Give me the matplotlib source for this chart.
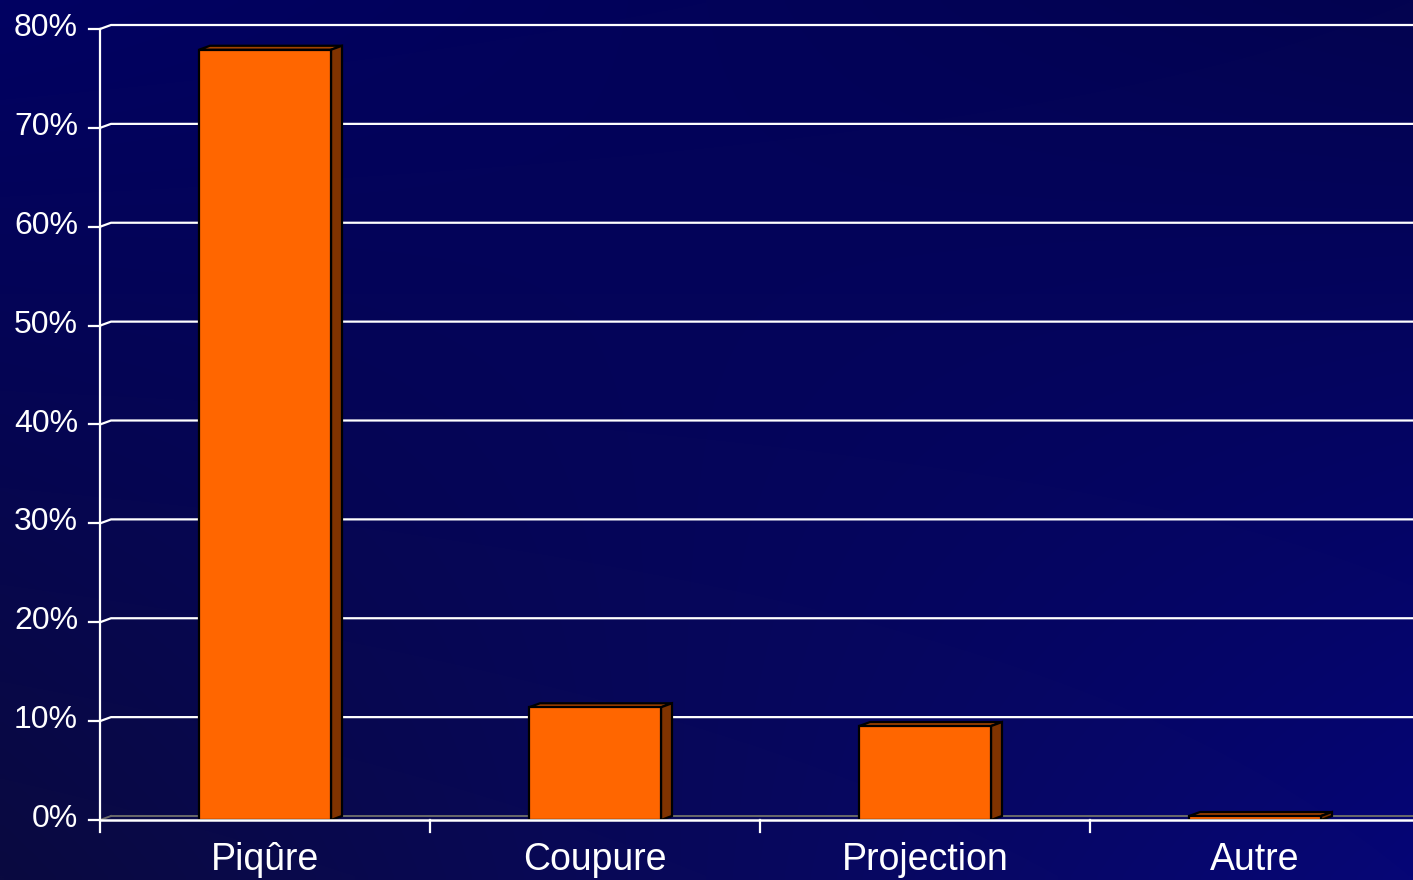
import numpy as np
import matplotlib
matplotlib.use("Agg")
import matplotlib.pyplot as plt
from matplotlib.patches import Polygon

# ---------------------------------------------------------
# Data
# ---------------------------------------------------------
categories = ["Piqûre", "Coupure", "Projection", "Autre"]
values = [77.9, 11.4, 9.5, 0.4]          # percent
y_ticks = [0, 10, 20, 30, 40, 50, 60, 70, 80]
y_tick_labels = [f"{t}%" for t in y_ticks]

plt.rcParams["font.family"] = ["Liberation Sans", "DejaVu Sans"]

W, H = 1413, 880
fig = plt.figure(figsize=(W / 100, H / 100), dpi=100)

# ---------------------------------------------------------
# Background gradient (dark navy)
# ---------------------------------------------------------
bg = fig.add_axes([0, 0, 1, 1], zorder=-10)
corners = {
    "tl": np.array([0x01, 0x01, 0x62]),
    "tr": np.array([0x03, 0x03, 0x50]),
    "bl": np.array([0x0A, 0x0A, 0x40]),
    "br": np.array([0x06, 0x06, 0x76]),
}
u = np.linspace(0, 1, 200)[None, :, None]
v = np.linspace(0, 1, 120)[:, None, None]
grad = ((1 - u) * (1 - v) * corners["tl"] + u * (1 - v) * corners["tr"]
        + (1 - u) * v * corners["bl"] + u * v * corners["br"]) / 255.0
bg.imshow(grad, aspect="auto", extent=[0, 1, 0, 1], interpolation="bilinear")
bg.set_axis_off()

# ---------------------------------------------------------
# Main axes (pixel layout of the reference)
# ---------------------------------------------------------
left_px, right_px, top_px, bottom_px = 100, 1413, 29, 820
ax = fig.add_axes([left_px / W, (H - bottom_px) / H,
                   (right_px - left_px) / W, (bottom_px - top_px) / H])
ax.set_facecolor("none")
cat_px = 330.0
x0, x1 = -0.5, -0.5 + (right_px - left_px) / cat_px
ax.set_xlim(x0, x1)
ax.set_ylim(0, 80)
for s in ax.spines.values():
    s.set_visible(False)
ax.set_xticks([])
ax.set_yticks([])

px_x = 1 / cat_px
px_y = 80 / (bottom_px - top_px)
dx, dy = 11 * px_x, 4 * px_y            # 3D depth offset
bar_w = 0.4

# back-wall gridlines with short diagonal from the axis
for t in y_ticks[1:]:
    ax.plot([x0, x0 + dx, x1], [t, t + dy, t + dy], color="white", lw=1.6,
            clip_on=False, zorder=1, solid_capstyle="butt")
# y tick marks
for t, lab in zip(y_ticks, y_tick_labels):
    ax.plot([x0 - 11 * px_x, x0], [t, t], color="white", lw=1.6,
            clip_on=False, zorder=3)
    ax.text(x0 - 22 * px_x, t + 0.1, lab, color="white", fontsize=23,
            ha="right", va="center", clip_on=False)

# floor: back edge gray, front edge white
ax.plot([x0 + dx, x1], [dy, dy], color="#6a6a6a", lw=1.4, clip_on=False, zorder=1)
ax.plot([x0, x0 + dx], [0, dy], color="#6a6a6a", lw=1.4, clip_on=False, zorder=1)

# bars (front, side, top faces)
for i, val in enumerate(values):
    xl, xr = i - bar_w / 2, i + bar_w / 2
    top = Polygon([(xl, val), (xl + dx, val + dy), (xr + dx, val + dy), (xr, val)],
                  closed=True, facecolor="#A34200", edgecolor="black", lw=1.6,
                  zorder=4, clip_on=False)
    side = Polygon([(xr, 0), (xr + dx, dy), (xr + dx, val + dy), (xr, val)],
                   closed=True, facecolor="#803300", edgecolor="black", lw=1.6,
                   zorder=4, clip_on=False)
    ax.add_patch(top)
    ax.add_patch(side)
    ax.bar(i, val, width=bar_w, color="#FF6600", edgecolor="black", lw=1.6,
           zorder=5)

# front floor line, y axis line and category ticks
ax.plot([x0, x1], [0, 0], color="white", lw=1.8, clip_on=False, zorder=6)
ax.plot([x0, x0], [-12 * px_y, 80], color="white", lw=1.6, clip_on=False, zorder=6)
for b in np.arange(0.5, len(categories) - 0.5, 1.0):
    ax.plot([b, b], [0, -12 * px_y], color="white", lw=1.6, clip_on=False, zorder=6)

for i, lab in enumerate(categories):
    ax.text(i, -50 * px_y, lab, color="white", fontsize=27, ha="center",
            va="baseline", clip_on=False)

fig.savefig("out.png", dpi=100)
